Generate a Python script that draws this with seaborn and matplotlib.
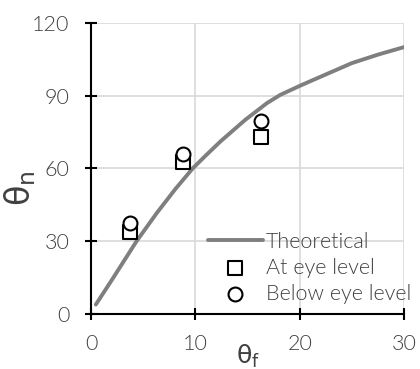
import matplotlib
matplotlib.use("Agg")
import matplotlib.pyplot as plt
import seaborn as sns
import pandas as pd

# Data
theory_x = [0.45, 2.0, 4.37, 6.29, 8.05, 9.75, 11.0, 12.38, 14.78, 16.86,
            18.14, 20.0, 21.0, 25.0, 27.5, 30.0]
theory_y = [3.75, 14.0, 30.0, 41.5, 51.3, 60.0, 65.3, 71.0, 80.0, 86.9,
            90.3, 94.0, 95.9, 103.4, 106.9, 110.0]
meas_x = [3.72, 8.85, 16.3]
eye_y = [33.8, 62.7, 73.0]
below_y = [37.5, 65.9, 79.5]
x_ticks = [0, 10, 20, 30]
y_ticks = [0, 30, 60, 90, 120]

sns.set_theme(style="white")
plt.rcParams['font.family'] = ['Lato', 'DejaVu Sans']
plt.rcParams['font.weight'] = 300
plt.rcParams['mathtext.fontset'] = 'dejavusans'

TXT = '#404040'
FS = 15.5
fig = plt.figure(figsize=(4.2, 3.69), dpi=100)
ax = fig.add_axes([0.217, 0.150, 0.745, 0.788])

ax.grid(True, color='#d9d9d9', linewidth=1.2)
ax.set_axisbelow(True)

df_t = pd.DataFrame({'x': theory_x, 'y': theory_y})
sns.lineplot(data=df_t, x='x', y='y', ax=ax, color='#7f7f7f', linewidth=2.8,
             label='Theoretical', zorder=3)
df_e = pd.DataFrame({'x': meas_x, 'y': eye_y})
df_b = pd.DataFrame({'x': meas_x, 'y': below_y})
sns.scatterplot(data=df_e, x='x', y='y', ax=ax, marker='s', s=100,
                facecolor='white', edgecolor='black', linewidth=1.5,
                label='At eye level', zorder=4)
sns.scatterplot(data=df_b, x='x', y='y', ax=ax, marker='o', s=100,
                facecolor='white', edgecolor='black', linewidth=1.5,
                label='Below eye level', zorder=5)

ax.set_xlim(0, 30)
ax.set_ylim(0, 120)
ax.set_xticks(x_ticks)
ax.set_yticks(y_ticks)
for s in ['top', 'right']:
    ax.spines[s].set_visible(False)
for s in ['left', 'bottom']:
    ax.spines[s].set_color('black')
    ax.spines[s].set_linewidth(1.5)
ax.tick_params(axis='both', direction='inout', length=9, width=1.5,
               color='black', labelsize=FS, labelcolor=TXT,
               bottom=True, left=True)
ax.tick_params(axis='y', pad=11)
ax.tick_params(axis='x', pad=10)

ax.set_xlabel(r'$\mathrm{\theta}_\mathrm{f}$', fontsize=18, color=TXT)
ax.set_ylabel(r'$\mathrm{\theta}_\mathrm{n}$', fontsize=24, color=TXT)
ax.xaxis.set_label_coords(0.5, -0.1)
ax.yaxis.set_label_coords(-0.17, 0.43)

leg = ax.legend(loc='upper left', bbox_to_anchor=(208/420, 1-232/369),
                bbox_transform=fig.transFigure, frameon=False, fontsize=FS,
                handlelength=2.55, handletextpad=0.15, borderpad=0, borderaxespad=0,
                labelspacing=0.27, labelcolor=TXT)

fig.savefig('out.png', dpi=100)
